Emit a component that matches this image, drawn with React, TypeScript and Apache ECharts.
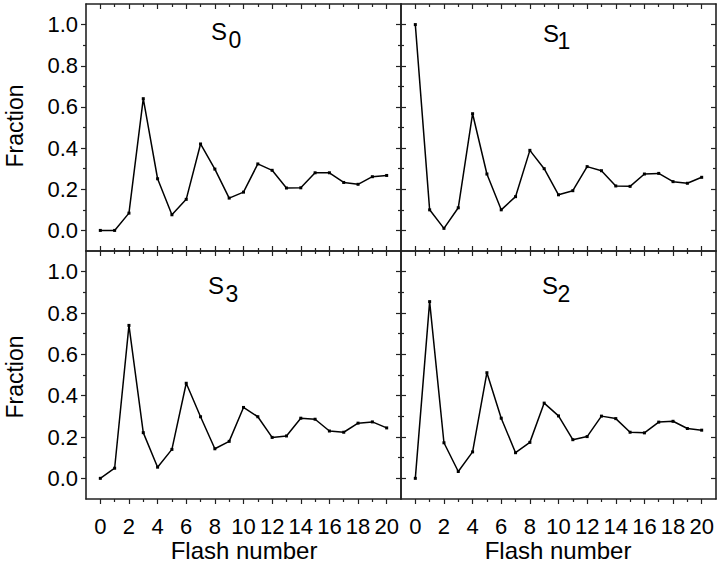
import React, { useEffect, useRef } from 'react';
import * as echarts from 'echarts';

const flashNumbers = [0, 1, 2, 3, 4, 5, 6, 7, 8, 9, 10, 11, 12, 13, 14, 15, 16, 17, 18, 19, 20];

const s0Values = [0, 0, 0.084, 0.64, 0.251, 0.076, 0.151, 0.42, 0.298, 0.157, 0.186, 0.323, 0.292, 0.206, 0.207, 0.28, 0.28, 0.233, 0.224, 0.261, 0.267];
const s1Values = [1.0, 0.1, 0.01, 0.11, 0.567, 0.274, 0.1, 0.164, 0.389, 0.3, 0.173, 0.193, 0.31, 0.29, 0.216, 0.214, 0.274, 0.277, 0.237, 0.229, 0.258];
const s3Values = [0, 0.049, 0.74, 0.221, 0.054, 0.14, 0.46, 0.298, 0.143, 0.179, 0.343, 0.298, 0.198, 0.205, 0.291, 0.286, 0.229, 0.223, 0.267, 0.273, 0.244];
const s2Values = [0, 0.855, 0.172, 0.033, 0.128, 0.511, 0.291, 0.124, 0.174, 0.364, 0.302, 0.187, 0.202, 0.301, 0.289, 0.223, 0.22, 0.272, 0.276, 0.241, 0.233];

const xMajorTicks = [0, 2, 4, 6, 8, 10, 12, 14, 16, 18, 20];
const xMinorTicks = [1, 3, 5, 7, 9, 11, 13, 15, 17, 19];
const yMajorTicks = [0, 0.2, 0.4, 0.6, 0.8, 1.0];
const yMinorTicks = [0.1, 0.3, 0.5, 0.7, 0.9];

const panelSubscripts = ['0', '1', '3', '2'];
const panelValues = [s0Values, s1Values, s3Values, s2Values];

const yAxisName = 'Fraction';
const xAxisName = 'Flash number';

const FONT = "'Liberation Sans', Arial, sans-serif";
const NARROW = "'Liberation Sans Narrow', 'Liberation Sans', Arial, sans-serif";
const AXIS_COLOR = '#222';

export default function App() {
  const ref = useRef<HTMLDivElement>(null);

  useEffect(() => {
    document.body.style.margin = '0';
    if (!ref.current) return;
    const chart = echarts.init(ref.current, undefined, { renderer: 'svg' });

    const lefts = [86, 401];
    const tops = [4, 251];
    const heights = [247, 248];
    const width = 315;

    const grids: any[] = [];
    const xAxes: any[] = [];
    const yAxes: any[] = [];
    const series: any[] = [];

    for (let g = 0; g < 4; g++) {
      const col = g % 2;
      const row = Math.floor(g / 2);
      grids.push({ left: lefts[col], top: tops[row], width, height: heights[row], containLabel: false });

      const isTop = row === 0;
      const isRight = col === 1;

      const base = (pos: string, ticks: number[], len: number, inside: boolean, line: boolean, labels: boolean, isX: boolean) => ({
        type: 'value',
        gridIndex: g,
        position: pos,
        min: isX ? -1 : -0.1,
        max: isX ? 21 : 1.1,
        interval: isX ? 1 : 0.1,
        axisLine: { show: line, onZero: false, lineStyle: { color: AXIS_COLOR, width: 1.6 } },
        axisTick: { show: true, inside, length: len, customValues: ticks, lineStyle: { color: AXIS_COLOR, width: 1.2 } },
        axisLabel: labels
          ? {
              show: true,
              customValues: ticks,
              color: '#000',
              fontFamily: NARROW,
              fontSize: 22,
              margin: isX ? 16 : 8,
              formatter: (v: number) => (isX ? String(v) : v.toFixed(1)),
            }
          : { show: false },
        splitLine: { show: false },
        minorTick: { show: false },
      });

      // x axes: bottom major, bottom minor, top major, top minor
      xAxes.push(base('bottom', xMajorTicks, 5, false, true, !isTop, true));
      xAxes.push(base('bottom', xMinorTicks, 3, false, false, false, true));
      xAxes.push(base('top', xMajorTicks, 5, isTop, true, false, true));
      xAxes.push(base('top', xMinorTicks, 3, isTop, false, false, true));
      // y axes: left major, left minor, right major, right minor
      yAxes.push(base('left', yMajorTicks, 5, false, true, !isRight, false));
      yAxes.push(base('left', yMinorTicks, 3, false, false, false, false));
      yAxes.push(base('right', yMajorTicks, 5, isRight, true, false, false));
      yAxes.push(base('right', yMinorTicks, 3, isRight, false, false, false));

      series.push({
        type: 'line',
        xAxisIndex: g * 4,
        yAxisIndex: g * 4,
        data: flashNumbers.map((x, i) => [x, panelValues[g][i]]),
        symbol: 'rect',
        symbolSize: 3,
        showSymbol: true,
        itemStyle: { color: '#000' },
        lineStyle: { color: '#000', width: 1.5 },
        silent: true,
      });
    }

    const titlePos = [
      { sx: 219, sy: 31, nx: 235, ny: 40 },
      { sx: 551, sy: 33, nx: 564, ny: 41 },
      { sx: 216, sy: 285, nx: 232, ny: 294 },
      { sx: 550, sy: 285.5, nx: 564, ny: 294 },
    ];

    const graphics: any[] = [];
    titlePos.forEach((p, i) => {
      graphics.push({
        type: 'text',
        x: p.sx,
        y: p.sy,
        style: { text: 'S', font: `24px ${FONT}`, fill: '#000', textAlign: 'center', textVerticalAlign: 'middle' },
      });
      graphics.push({
        type: 'text',
        x: p.nx,
        y: p.ny,
        style: { text: panelSubscripts[i], font: `23px ${FONT}`, fill: '#000', textAlign: 'center', textVerticalAlign: 'middle' },
      });
    });
    [126, 377].forEach((cy) => {
      graphics.push({
        type: 'text',
        x: 15,
        y: cy,
        rotation: Math.PI / 2,
        style: { text: yAxisName, font: `23px ${FONT}`, fill: '#000', textAlign: 'center', textVerticalAlign: 'middle' },
      });
    });
    [244, 558].forEach((cx) => {
      graphics.push({
        type: 'text',
        x: cx,
        y: 550,
        style: { text: xAxisName, font: `24px ${FONT}`, fill: '#000', textAlign: 'center', textVerticalAlign: 'middle' },
      });
    });

    chart.setOption({
      animation: false,
      backgroundColor: '#fff',
      grid: grids,
      xAxis: xAxes,
      yAxis: yAxes,
      series,
      graphic: graphics,
    });

    return () => chart.dispose();
  }, []);

  return <div ref={ref} style={{ width: 720, height: 567 }} />;
}
